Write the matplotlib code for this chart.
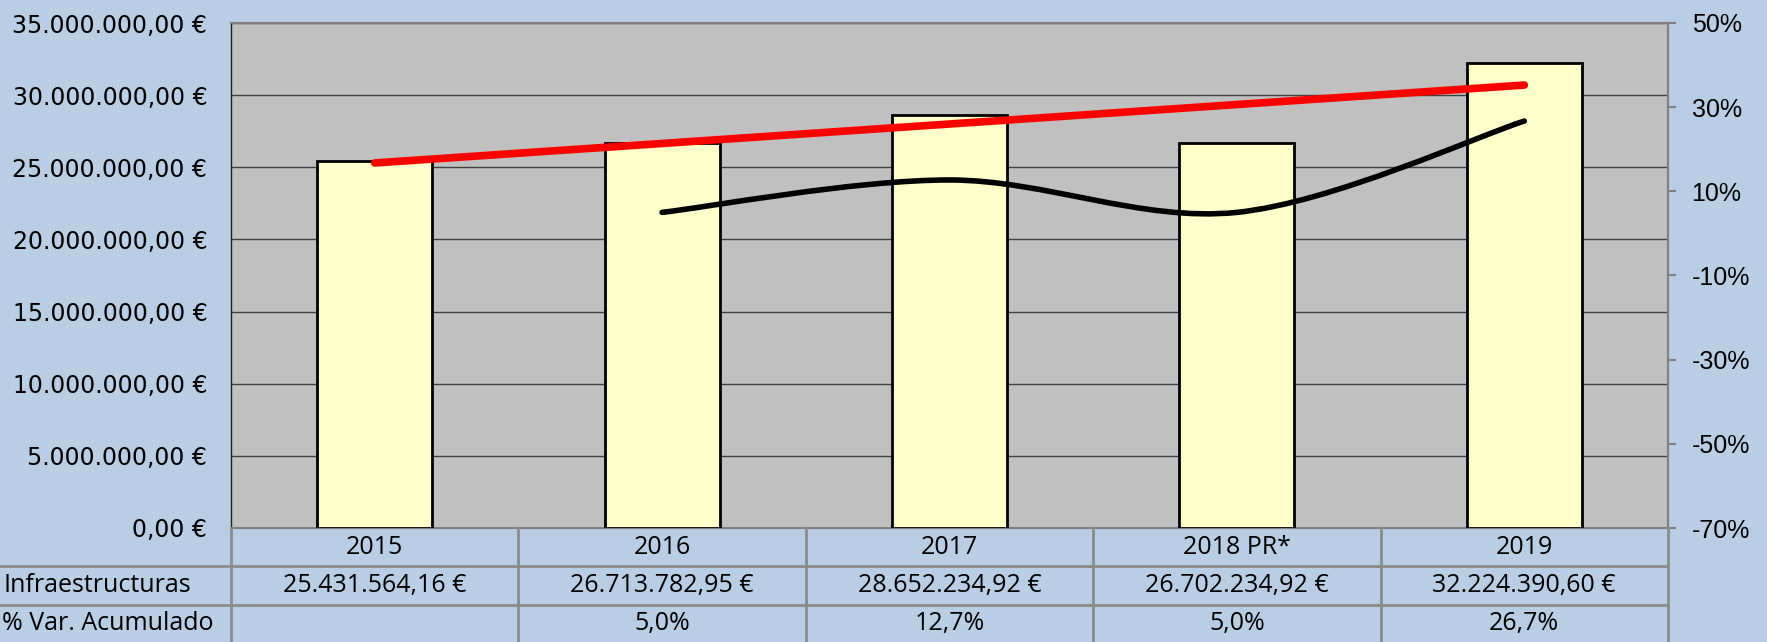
import numpy as np
import matplotlib
matplotlib.use("Agg")
import matplotlib.pyplot as plt
from matplotlib.path import Path
from matplotlib.patches import PathPatch
from matplotlib.transforms import blended_transform_factory

# datos
anios = ["2015", "2016", "2017", "2018 PR*", "2019"]
infraestructuras = [25431564.16, 26713782.95, 28652234.92, 26702234.92, 32224390.60]
var_acumulado = [None, 5.0, 12.7, 5.0, 26.7]
# linea roja (tendencia), en euros
tendencia = [25300000, 26650000, 28000000, 29350000, 30700000]

fondo = "#B9CDE5"
W, H = 1767, 642

def euros(v):
    s = f"{v:,.2f}".replace(",", "X").replace(".", ",").replace("X", ".")
    return s + " €"

fig = plt.figure(figsize=(W / 100, H / 100), dpi=100, facecolor=fondo)

# area del grafico en pixeles
x0, x1 = 231, 1668
y_top, y_bot = 23, 528
ax = fig.add_axes([x0 / W, 1 - y_bot / H, (x1 - x0) / W, (y_bot - y_top) / H])
ax.set_facecolor("#C0C0C0")

x = np.arange(len(anios))
ax.bar(x, infraestructuras, width=0.4, color="#FFFFCC", edgecolor="black",
       linewidth=2, zorder=3)
ax.plot(x, tendencia, color="red", lw=5.5, solid_capstyle="round", zorder=5)

ax.set_xlim(-0.5, len(anios) - 0.5)
ax.set_ylim(0, 35000000)
ax.set_yticks(np.arange(0, 35000001, 5000000))
ax.set_yticklabels([euros(v) for v in np.arange(0, 35000001, 5000000)],
                   fontsize=17, family="DejaVu Sans")
ax.tick_params(axis="y", length=0, pad=17)
ax.set_xticks([])
ax.grid(axis="y", color="#404040", lw=1, zorder=1)
ax.set_axisbelow(True)
for s in ["top", "right", "bottom"]:
    ax.spines[s].set_color("#808080")
    ax.spines[s].set_linewidth(1.5)
ax.spines["left"].set_color("#202020")
ax.spines["left"].set_linewidth(1)

# eje secundario
ax2 = ax.twinx()
ax2.set_ylim(-70, 50)
ax2.set_yticks(np.arange(-70, 51, 20))
ax2.set_yticklabels([f"{v:.0f}%" for v in np.arange(-70, 51, 20)],
                    fontsize=18, family="Liberation Sans")
ax2.tick_params(axis="y", length=6, width=1.5, color="#808080", pad=11)
ax2.spines["right"].set_color("#808080")
ax2.spines["right"].set_linewidth(1.5)
for s in ["top", "left", "bottom"]:
    ax2.spines[s].set_visible(False)

# linea suavizada (bezier tipo Excel) para % Var. Acumulado
px = [i for i, v in enumerate(var_acumulado) if v is not None]
py = [v for v in var_acumulado if v is not None]
pts = np.column_stack([px, py]).astype(float)
verts = [tuple(pts[0])]
codes = [Path.MOVETO]
n = len(pts)
for i in range(n - 1):
    p_prev = pts[max(i - 1, 0)]
    p0, p1 = pts[i], pts[i + 1]
    p_next = pts[min(i + 2, n - 1)]
    c1 = p0 + (p1 - p_prev) / 6
    c2 = p1 - (p_next - p0) / 6
    verts += [tuple(c1), tuple(c2), tuple(p1)]
    codes += [Path.CURVE4] * 3
curva = PathPatch(Path(verts, codes), facecolor="none", edgecolor="black",
                  lw=4, capstyle="round", zorder=4, transform=ax2.transData)
ax2.add_patch(curva)

# tabla de datos bajo el grafico
tr = blended_transform_factory(ax.transData, fig.transFigure)
linea = "#8C8C8C"
filas = [528, 566, 605, 642]
for yy in filas[1:3]:
    fig.add_artist(plt.Line2D([0, x1 / W], [1 - yy / H, 1 - yy / H],
                              color=linea, lw=2))
for b in np.arange(-0.5, len(anios), 1.0):
    fig.add_artist(plt.Line2D([b, b], [0, 1 - y_bot / H], color=linea, lw=2,
                              transform=tr))

fuente = "Open Sans"
fs = 18
def centro(i):
    return 1 - (filas[i] + filas[i + 1]) / 2 / H

for i, a in enumerate(anios):
    fig.text(i, centro(0), a, transform=tr, ha="center", va="center",
             fontsize=fs, family=fuente)
    fig.text(i, centro(1), euros(infraestructuras[i]), transform=tr,
             ha="center", va="center", fontsize=fs, family=fuente)
    if var_acumulado[i] is not None:
        fig.text(i, centro(2), f"{var_acumulado[i]:.1f}%".replace(".", ","),
                 transform=tr, ha="center", va="center", fontsize=fs,
                 family=fuente)

fig.text(3 / W, centro(1), "Infraestructuras", ha="left", va="center",
         fontsize=fs, family=fuente)
fig.text(2 / W, centro(2), "% Var. Acumulado", ha="left", va="center",
         fontsize=fs, family=fuente)

fig.savefig("out.png", dpi=100, facecolor=fondo)
